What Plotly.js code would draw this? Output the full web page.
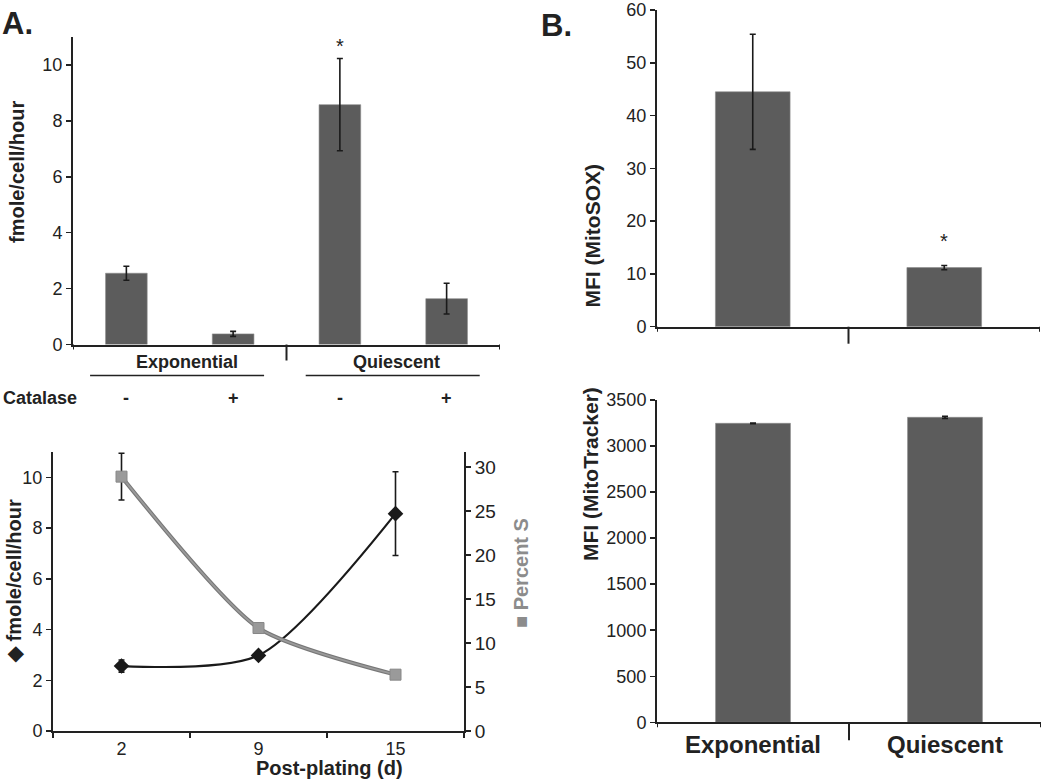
<!DOCTYPE html>
<html>
<head>
<meta charset="utf-8">
<script src="https://cdn.plot.ly/plotly-3.0.1.min.js"></script>
<style>html,body{margin:0;padding:0;background:#fff;}#chart{width:1050px;height:782px;}</style>
</head>
<body>
<div id="chart"></div>
<script>
// ---------- Data ----------
// Panel A (top): H2O2 production by condition
const conditionsA = ['Exp -', 'Exp +', 'Qui -', 'Qui +'];
const catalaseSigns = ['-', '+', '-', '+'];
const growthGroups = ['Exponential', 'Quiescent'];
const rateA = [2.55, 0.38, 8.58, 1.64];
const rateAErr = [0.25, 0.09, 1.65, 0.55];

// Panel A (bottom): time course
const postPlatingDays = ['2', '9', '15'];
const rateTime = [2.56, 2.98, 8.57];
const rateTimeErr = [0.24, 0.12, 1.65];
const percentS = [28.9, 11.7, 6.4];
const percentSErr = [2.65, 0.6, 0.3];

// Panel B
const stateB = ['Exponential', 'Quiescent'];
const mitoSOX = [44.5, 11.2];
const mitoSOXErr = [10.9, 0.4];
const mitoTracker = [3247, 3312];
const mitoTrackerErr = [4, 12];

// ---------- Styles ----------
const FONT = 'Liberation Sans, Arial, sans-serif';
const BAR = '#5c5c5c';
const AX = '#222222';
const GRAY = '#8c8c8c';
const W = 1050, H = 782;
const px = v => v / W;
const py = v => 1 - v / H;

const errStyle = (arr) => ({type: 'data', array: arr, visible: true, color: '#1a1a1a', thickness: 1.6, width: 3});

const traces = [
  {type: 'bar', x: conditionsA, y: rateA, xaxis: 'x', yaxis: 'y',
   marker: {color: BAR, line: {color: '#8a8a8a', width: 0.6}}, error_y: errStyle(rateAErr), hoverinfo: 'skip'},
  // gray percent S line (outline + core)
  {type: 'scatter', mode: 'lines', x: postPlatingDays, y: percentS, xaxis: 'x2', yaxis: 'y3',
   line: {color: '#777777', width: 4, shape: 'spline', smoothing: 0.65}, hoverinfo: 'skip'},
  {type: 'scatter', mode: 'lines+markers', x: postPlatingDays, y: percentS, xaxis: 'x2', yaxis: 'y3',
   line: {color: '#9a9a9a', width: 1.8, shape: 'spline', smoothing: 0.65},
   marker: {symbol: 'square', size: 11, color: '#9a9a9a', line: {color: '#888', width: 1}},
   error_y: errStyle(percentSErr), hoverinfo: 'skip'},
  {type: 'scatter', mode: 'lines+markers', x: postPlatingDays, y: rateTime, xaxis: 'x2', yaxis: 'y2',
   line: {color: '#1a1a1a', width: 2.2, shape: 'spline', smoothing: 0.75},
   marker: {symbol: 'diamond', size: 12, color: '#1a1a1a'},
   error_y: errStyle(rateTimeErr), hoverinfo: 'skip'},
  {type: 'bar', x: stateB, y: mitoSOX, xaxis: 'x4', yaxis: 'y4',
   marker: {color: BAR, line: {color: '#8a8a8a', width: 0.6}}, error_y: errStyle(mitoSOXErr), hoverinfo: 'skip'},
  {type: 'bar', x: stateB, y: mitoTracker, xaxis: 'x5', yaxis: 'y5',
   marker: {color: BAR, line: {color: '#8a8a8a', width: 0.6}}, error_y: errStyle(mitoTrackerErr), hoverinfo: 'skip'}
];

const tickFont = {family: FONT, size: 18, color: AX};
const yBase = {showgrid: false, zeroline: false, showline: true, linecolor: AX, linewidth: 2,
  ticks: 'outside', ticklen: 5, tickwidth: 1.5, tickcolor: AX, tickfont: tickFont, fixedrange: true};
const xBase = {showgrid: false, zeroline: false, showline: true, linecolor: AX, linewidth: 2,
  ticks: '', fixedrange: true, type: 'category'};

const layout = {
  width: W, height: H, margin: {l: 0, r: 0, t: 0, b: 0},
  paper_bgcolor: '#fff', plot_bgcolor: 'rgba(0,0,0,0)', showlegend: false,
  bargap: 0.61, font: {family: FONT, color: AX},
  xaxis: Object.assign({}, xBase, {domain: [px(73), px(500)], anchor: 'y', showticklabels: false, range: [-0.5, 3.5]}),
  yaxis: Object.assign({}, yBase, {domain: [py(344.5), py(37)], anchor: 'x', range: [0, 11], dtick: 2}),
  xaxis2: Object.assign({}, xBase, {domain: [px(53), px(464)], anchor: 'y2', range: [-0.5, 2.5],
    ticks: 'outside', tickson: 'boundaries', ticklen: 5, tickwidth: 1.5, tickcolor: AX,
    tickfont: {family: FONT, size: 18, color: AX}}),
  yaxis2: Object.assign({}, yBase, {domain: [py(731), py(452)], anchor: 'x2', range: [0, 11], dtick: 2}),
  yaxis3: Object.assign({}, yBase, {overlaying: 'y2', side: 'right', anchor: 'x2', range: [0, 31.7], dtick: 5,
    tickfont: {family: FONT, size: 19, color: AX}}),
  xaxis4: Object.assign({}, xBase, {domain: [px(657), px(1040)], anchor: 'y4', showticklabels: false, range: [-0.5, 1.5]}),
  yaxis4: Object.assign({}, yBase, {domain: [py(326.7), py(10)], anchor: 'x4', range: [0, 60], dtick: 10}),
  xaxis5: Object.assign({}, xBase, {domain: [px(657), px(1041)], anchor: 'y5', range: [-0.5, 1.5],
    tickfont: {family: FONT, size: 24, color: AX, weight: 'bold'}}),
  yaxis5: Object.assign({}, yBase, {domain: [py(722.3), py(400)], anchor: 'x5', range: [0, 3500], dtick: 500}),
  shapes: [], annotations: []
};

const S = layout.shapes, A = layout.annotations;
const tick = (xref, x, yStart, len) => S.push({type: 'line', xref: xref, yref: 'paper', x0: x, x1: x,
  y0: py(yStart), y1: py(yStart + len), line: {color: AX, width: 2}});
// Panel A top group ticks
tick('x', -0.5, 344.5, 5); tick('x', 1.5, 344.5, 16); tick('x', 3.5, 344.5, 5);
// Panel B ticks
tick('x4', -0.5, 326.7, 5); tick('x4', 0.5, 326.7, 17); tick('x4', 1.5, 326.7, 5);
tick('x5', -0.5, 722.3, 5); tick('x5', 0.5, 722.3, 18); tick('x5', 1.5, 722.3, 5);

// group labels and underline
const groupCenters = [0.57, 2.53];
const groupSpans = [[-0.34, 1.29], [1.68, 3.31]];
growthGroups.forEach((g, i) => {
  A.push({xref: 'x', yref: 'paper', x: groupCenters[i], y: py(362), text: '<b>' + g + '</b>', showarrow: false,
    font: {family: FONT, size: 18, color: AX}, xanchor: 'center', yanchor: 'middle'});
  S.push({type: 'line', xref: 'x', yref: 'paper', x0: groupSpans[i][0], x1: groupSpans[i][1], y0: py(375.6), y1: py(375.6),
    line: {color: AX, width: 1.5}});
});
A.push({xref: 'paper', yref: 'paper', x: px(1), y: py(398), text: '<b>Catalase</b>', showarrow: false,
  font: {family: FONT, size: 18, color: AX}, xanchor: 'left', yanchor: 'middle'});
conditionsA.forEach((c, i) => {
  A.push({xref: 'x', yref: 'paper', x: c, y: py(398), text: '<b>' + catalaseSigns[i] + '</b>', showarrow: false,
    font: {family: FONT, size: 18, color: AX}, xanchor: 'center', yanchor: 'middle'});
});
// significance stars
A.push({xref: 'x', yref: 'y', x: conditionsA[2], y: rateA[2] + rateAErr[2] + 0.43, text: '*', showarrow: false,
  font: {family: FONT, size: 20, color: AX}, yanchor: 'middle'});
A.push({xref: 'x4', yref: 'y4', x: stateB[1], y: mitoSOX[1] + mitoSOXErr[1] + 4.7, text: '*', showarrow: false,
  font: {family: FONT, size: 20, color: AX}, yanchor: 'middle'});

// axis titles as annotations
const vTitle = (x, y, text, color) => A.push({xref: 'paper', yref: 'paper', x: px(x), y: py(y), text: '<b>' + text + '</b>',
  textangle: -90, showarrow: false, font: {family: FONT, size: 20, color: color || AX}, xanchor: 'center', yanchor: 'middle'});
vTitle(17, 172, 'fmole/cell/hour');
vTitle(14, 581, '◆ fmole/cell/hour');
vTitle(521, 573, '■ Percent S', GRAY);
A.push({xref: 'paper', yref: 'paper', x: px(592), y: py(163), text: '<b>MFI (MitoSOX)</b>', textangle: -90, showarrow: false,
  font: {family: FONT, size: 21, color: AX}});
A.push({xref: 'paper', yref: 'paper', x: px(590), y: py(563), text: '<b>MFI (MitoTracker)</b>', textangle: -90, showarrow: false,
  font: {family: FONT, size: 21, color: AX}});
A.push({xref: 'paper', yref: 'paper', x: px(254), y: py(781), text: '<b>Post-plating (d)</b>', showarrow: false,
  yanchor: 'bottom', font: {family: FONT, size: 20, color: AX}});
// panel letters
A.push({xref: 'paper', yref: 'paper', x: px(0), y: py(23), text: '<b>A.</b>', showarrow: false, xanchor: 'left', yanchor: 'middle',
  font: {family: FONT, size: 31, color: AX}});
A.push({xref: 'paper', yref: 'paper', x: px(539), y: py(25), text: '<b>B.</b>', showarrow: false, xanchor: 'left', yanchor: 'middle',
  font: {family: FONT, size: 31, color: AX}});

Plotly.newPlot('chart', traces, layout, {staticPlot: true, displayModeBar: false});
</script>
</body>
</html>
